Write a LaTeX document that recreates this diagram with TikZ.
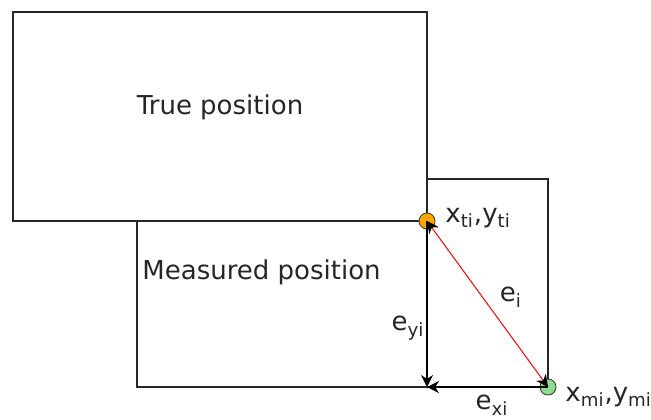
\documentclass[tikz,border=0pt]{standalone}
\usepackage{fontspec}
\setmainfont{DejaVu Sans}
\usetikzlibrary{arrows.meta}
\definecolor{tiorange}{RGB}{255,165,0}
\definecolor{migreen}{RGB}{140,220,140}

\begin{document}
\begin{tikzpicture}[
    x=0.5pt, y=-0.5pt,
    font=\fontsize{13}{15}\selectfont,
    posbox/.style={
        rectangle, draw=black!85, line width=1pt,
        fill=white, inner sep=0pt
    },
    dot/.style={circle, draw=black!80, line width=0.4pt, inner sep=0pt, minimum size=8pt},
    lbl/.style={text=black!85, inner sep=1pt},
    err/.style={-{Stealth[length=6pt, width=6pt]}, line width=0.8pt, draw=black},
    diag/.style={{Stealth[length=6pt, width=6pt, black]}-{Stealth[length=6pt, width=6pt, black]}, draw=red, line width=0.5pt}
]
\useasboundingbox (0,0) rectangle (651,419);

% ============ Boxes ============
\node[posbox, minimum width=205.5pt, minimum height=104pt] (measpos) at (342.5,283) {};
\node[posbox, minimum width=207pt, minimum height=104.5pt] (truepos) at (220,116.5) {};
\node[lbl] (truetxt) at (220,107) {True position};
\node[lbl, anchor=west] (meastxt) at (140,272) {Measured position};

% ============ Points ============
\node[dot, fill=tiorange] (ti) at (427,221) {};
\node[dot, fill=migreen] (mi) at (548,387) {};
\coordinate (corner) at (ti |- mi);

% ============ Errors ============
\draw[err] (ti.center) -- (corner);
\draw[err] (mi.center) -- (corner);
\draw[diag] (mi.center) -- (ti.center);

% ============ Labels ============
\node[lbl, anchor=west] (tilbl) at (443,218) {x\textsubscript{ti},y\textsubscript{ti}};
\node[lbl] (eilbl) at (511,297) {e\textsubscript{i}};
\node[lbl] (eylbl) at (408,328) {e\textsubscript{yi}};
\node[lbl] (exlbl) at (492,405) {e\textsubscript{xi}};
\node[lbl, anchor=west] (milbl) at (563,397) {x\textsubscript{mi},y\textsubscript{mi}};

\end{tikzpicture}
\end{document}
